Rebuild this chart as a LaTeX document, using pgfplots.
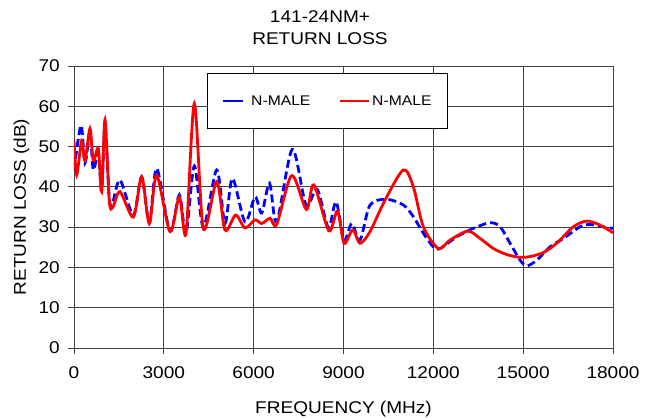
\documentclass[border=0pt]{standalone}
\usepackage{pgfplots}
\pgfplotsset{compat=1.18}
\usepackage{fontspec}
\setmainfont[FakeStretch=1.12]{Liberation Sans}
\definecolor{rlblue}{RGB}{0,0,255}
\definecolor{rlred}{RGB}{255,0,0}
\pgfplotsset{
  bluelegend/.style={legend image code/.code={\draw[##1, solid] (0bp,0bp) -- (20bp,0bp); \path (25bp,0bp);}},
  redlegend/.style={legend image code/.code={\draw[##1] (0bp,0bp) -- (29bp,0bp);}},
}
\begin{document}
\begin{tikzpicture}
\begin{axis}[
  at={(0,0)}, anchor=south west,
  scale only axis, width=539bp, height=282bp,
  xmin=0, xmax=18000, ymin=0, ymax=70,
  xtick={0,3000,...,18000}, ytick={0,10,...,70},
  grid=major,
  major grid style={black!75, line width=0.8bp},
  axis line style={black!75, line width=0.8bp},
  tick style={black!75, line width=0.8bp},
  tick align=outside, major tick length=6bp, tick pos=left,
  scaled x ticks=false,
  /pgf/number format/1000 sep={},
  /pgf/number format/assume math mode=true,
  ticklabel style={font=\fontsize{17bp}{20bp}\selectfont},
  xticklabel style={anchor=base, yshift=-24bp},
  yticklabel style={anchor=east, inner sep=0pt, xshift=-8bp},
  xlabel={FREQUENCY (MHz)},
  xlabel style={at={(axis description cs:0.5,-0.2305)}, anchor=base, font=\fontsize{17bp}{20bp}\selectfont},
  ylabel={RETURN LOSS (dB)},
  ylabel style={at={(axis description cs:-0.0891,0.5)}, anchor=base, font=\fontsize{17bp}{20bp}\selectfont},
  legend columns=2,
  legend style={at={(axis description cs:0.2468,0.9752)}, anchor=north west,
    draw=black, line width=0.8bp, fill=white,
    inner xsep=14bp, inner ysep=20bp,
    font=\fontsize{14bp}{17bp}\selectfont,
    /tikz/every even column/.append style={column sep=26bp}},
]
\addplot[rlblue, line width=2.8bp, dash pattern=on 8bp off 4bp, smooth, tension=0.5, bluelegend]
  coordinates {
  (0,44) (234,55.3) (367,45.9) (534,53.5) (645,44.2) (812,48.5) (924,39)
  (1035,55) (1180,37) (1290,36) (1536,41.7) (1982,33) (2260,42.5) (2516,31)
  (2761,44.6) (3206,29) (3518,38) (3741,28.5) (4019,45.2) (4320,30)
  (4766,44.2) (5043,30.9) (5290,42.1) (5711,31.3) (6045,37.5) (6269,33.5)
  (6530,40.9) (6770,31.3) (7290,49.3) (7749,35.5) (8120,39.4) (8495,29.9)
  (8751,36.3) (9018,26.8) (9275,30.9) (9552,26.8) (9886,35.5) (10443,36.9)
  (11000,35.5) (11333,32.6) (11667,28.5) (12000,25.1) (12224,24.7)
  (12780,27.6) (13336,29.7) (13894,31.1) (14228,30.1) (14562,26)
  (14897,21.8) (15120,20.4) (15454,21.8) (15898,25.1) (16343,27.2)
  (16901,30.1) (17234,30.7) (17791,29.9) (18000,29.7)
  };
\addlegendentry{N-MALE}
\addplot[rlred, line width=2.8bp, smooth, tension=0.5, redlegend]
  coordinates {
  (0,51.5) (90,43) (256,51.5) (367,46.5) (534,54.5) (645,46.5) (812,49.5)
  (924,38.8) (1035,56.7) (1180,36.5) (1300,35) (1536,38.8) (1982,32.5)
  (2260,42.5) (2516,30.9) (2761,42.9) (3206,28.9) (3518,37.5) (3741,28.5)
  (4019,60.7) (4320,29.7) (4766,41.3) (5043,29.3) (5400,33) (5711,29.8)
  (6045,31.8) (6269,30.9) (6546,32.2) (6770,30.7) (7270,42.8) (7760,34.4)
  (8010,40.5) (8510,29.1) (8800,34) (9018,26) (9309,29.3) (9552,26)
  (9886,28.9) (10387,36.7) (11000,44.2) (11333,40) (11667,30.1)
  (12168,24.7) (12558,26.8) (13150,29) (13561,27.2) (14005,24.7)
  (14451,23.2) (14897,22.5) (15230,22.7) (15675,23.7) (16120,26)
  (16677,30.1) (17124,31.5) (17568,30.5) (18000,28.6)
  };
\addlegendentry{N-MALE}
\end{axis}
\node[anchor=base, font=\fontsize{17bp}{20bp}\selectfont] at (246bp,325.3bp) {141-24NM+};
\node[anchor=base, font=\fontsize{17bp}{20bp}\selectfont] at (246bp,303bp) {RETURN LOSS};
\pgfresetboundingbox
\path[use as bounding box] (-74bp,-70bp) rectangle (580bp,348bp);
\end{tikzpicture}
\end{document}
